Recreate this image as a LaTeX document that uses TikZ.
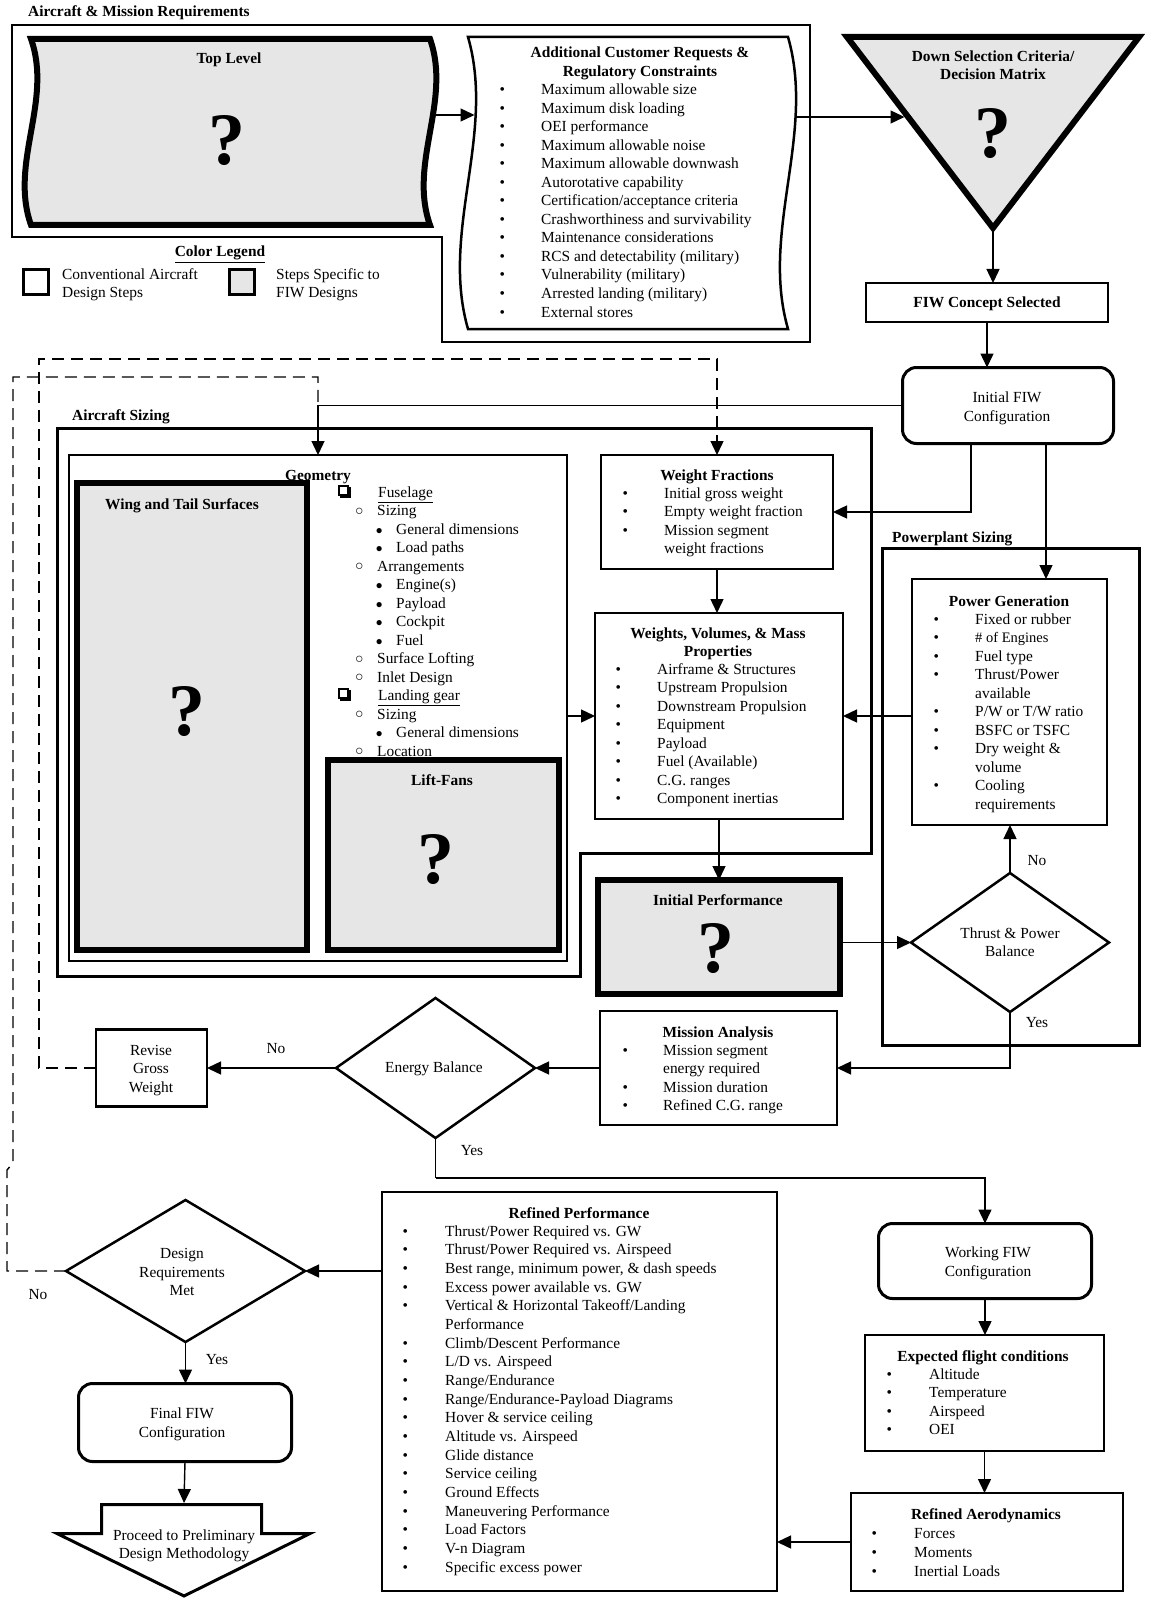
\documentclass[tikz,border=0pt]{standalone}
\usepackage{fontspec}
\setmainfont{Liberation Serif}
\usetikzlibrary{arrows.meta,shapes.geometric,calc}
\definecolor{fiwgray}{RGB}{230,230,230}
\newcommand\fsz{\fontsize{15.4}{18.5}\selectfont}
\newcommand\qmfont{\fontsize{74}{74}\selectfont\bfseries}
\newcommand\blist[6]{%
  \foreach \k/\bb/\tx in {#6}{%
    \node[lblw] (#1-\k) at ({#2-2.7},{#4+5+\k*#5})
      {\ifnum\bb=1 \makebox[\dimexpr #3pt-#2pt+2.7pt\relax][l]{\textbullet}\else\hspace*{\dimexpr #3pt-#2pt+2.7pt\relax}\fi\tx};}}
\newcommand\gsq[3]{\node[lblw] (#1) at (378,{#2+5}) {\underline{#3}};}
\newcommand\gci[3]{\node[lblw] (#1) at (355,{#2+5}) {\makebox[22pt][l]{\raisebox{0.5pt}{\fontsize{14}{14}\selectfont ○}}#3};}
\newcommand\gbu[3]{\node[lblw] (#1) at (375.5,{#2+5}) {\makebox[20.5pt][l]{\fontsize{12}{12}\selectfont ●}#3};}
\begin{document}
\begin{tikzpicture}[x=1pt,y=-1pt,
  lbl/.style={font=\fsz, inner sep=0, anchor=base},
  lblw/.style={font=\fsz, inner sep=0, anchor=base west},
  ttl/.style={font=\fsz\bfseries, inner sep=0, anchor=base},
  ttlw/.style={font=\fsz\bfseries, inner sep=0, anchor=base west},
  qm/.style={font=\qmfont, inner sep=0, anchor=base},
  box/.style={draw, line width=2.2pt, inner sep=0, outer sep=0},
  gbox/.style={draw, line width=6pt, fill=fiwgray, inner sep=0, outer sep=0},
  rbox/.style={draw, line width=3pt, rounded corners=14pt, inner sep=0, outer sep=0},
  dia/.style={diamond, draw, line width=2.5pt, inner sep=0, outer sep=0},
  conn/.style={line width=1.4pt, -{Triangle[length=14pt,width=13pt]}},
  pln/.style={line width=1.4pt},
  dln/.style={line width=1.4pt, dash pattern=on 12pt off 7pt}]
\useasboundingbox (0,0) rectangle (1151,1602);
\fill[white] (0,0) rectangle (1151,1602);

% ---------- Requirements ----------
\node[ttlw] (reqtitle) at (28,17) {Aircraft \& Mission Requirements};
\draw[line width=2.5pt] (12,25) -- (810,25) -- (810,342) -- (442,342) -- (442,237) -- (12,237) -- cycle;
\draw[line width=6pt, fill=fiwgray] (31,39) -- (430,39) .. controls (452,101) and (408,163) .. (430,225) -- (31,225) .. controls (9,163) and (53,101) .. (31,39) -- cycle;
\node[ttl] (tl-t) at (229,64) {Top Level};
\node[qm] (tl-q) at (227,165) {?};

\draw[line width=2.5pt] (468,37) -- (788,37) .. controls (816,134) and (760,232) .. (788,329) -- (468,329) .. controls (440,232) and (496,134) .. (468,37) -- cycle;
\node[ttl] (ad-t1) at (640,58) {Additional Customer Requests \&};
\node[ttl] (ad-t2) at (640,77) {Regulatory Constraints};
\blist{ad}{502}{541}{90}{18.5}{0/1/Maximum allowable size,1/1/Maximum disk loading,2/1/OEI performance,3/1/Maximum allowable noise,4/1/Maximum allowable downwash,5/1/Autorotative capability,6/1/{Certification/acceptance criteria},7/1/Crashworthiness and survivability,8/1/Maintenance considerations,9/1/RCS and detectability (military),10/1/Vulnerability (military),11/1/Arrested landing (military),12/1/External stores}

\coordinate (tlR) at (433,115);
\coordinate (adL) at (474.5,115);
\draw[conn] (tlR) -- (adL);

\draw[line width=6pt, fill=fiwgray] (847,37) -- (1139,37) -- (993,228) -- cycle;
\node[ttl] (ds-t1) at (993,62) {Down Selection Criteria/};
\node[ttl] (ds-t2) at (993,80) {Decision Matrix};
\node[qm] (ds-q) at (993,158) {?};
\coordinate (adR) at (795.6,117);
\coordinate (triL) at (904.5,117);
\draw[conn] (adR) -- (triL);

\node[ttl] (leg-t) at (220,257) {\underline{Color Legend}};
\node[box, line width=3pt, minimum width=25pt, minimum height=25pt] (lb1) at (36,282) {};
\node[box, line width=3pt, fill=fiwgray, minimum width=25pt, minimum height=25pt] (lb2) at (242,282) {};
\node[lblw] (lb1-a) at (62,280) {Conventional Aircraft};
\node[lblw] (lb1-b) at (62,298) {Design Steps};
\node[lblw] (lb2-a) at (276,280) {Steps Specific to};
\node[lblw] (lb2-b) at (276,298) {FIW Designs};

% ---------- FIW concept ----------
\node[box, minimum width=242pt, minimum height=39pt] (fiwc) at (987,302.5) {};
\node[ttl] (fiwc-t) at (987,308) {FIW Concept Selected};
\coordinate (triB) at (993,228);
\draw[conn] (triB) -- (triB |- fiwc.north);

\node[rbox, minimum width=211pt, minimum height=76pt] (ifw) at (1008,405.5) {};
\node[lbl] (ifw-a) at (1007,402) {Initial FIW};
\node[lbl] (ifw-b) at (1007,421) {Configuration};
\draw[conn] (fiwc.south) -- (fiwc.south |- ifw.north);

% ---------- Aircraft sizing ----------
\node[ttlw] (as-t) at (72,420) {Aircraft Sizing};
\draw[line width=3pt] (57,428) -- (871,428) -- (871,853) -- (580,853) -- (580,976) -- (57,976) -- cycle;
\node[box, line width=2pt, minimum width=498pt, minimum height=506pt] (geo) at (318,708) {};

\draw[line width=1.1pt] (339,486) rectangle (348,495);
\draw[line width=2pt] (340,497) -- (350,497) -- (350,487);
\draw[line width=1.1pt] (339,689) rectangle (348,698);
\draw[line width=2pt] (340,700) -- (350,700) -- (350,690);
\gsq{g0}{492}{Fuselage}
\gci{g1}{510.5}{Sizing}
\gbu{g2}{529}{General dimensions}
\gbu{g3}{547.5}{Load paths}
\gci{g4}{566}{Arrangements}
\gbu{g5}{584.5}{Engine(s)}
\gbu{g6}{603}{Payload}
\gbu{g7}{621.5}{Cockpit}
\gbu{g8}{640}{Fuel}
\gci{g9}{658.5}{Surface Lofting}
\gci{g10}{677}{Inlet Design}
\gsq{g11}{695.5}{Landing gear}
\gci{g12}{714}{Sizing}
\gbu{g13}{732.5}{General dimensions}
\gci{g14}{751}{Location}

\node[gbox, minimum width=230pt, minimum height=467pt] (wing) at (192,716.5) {};
\node[ttl] (geo-t) at (318,480) {Geometry};
\node[ttl] (wing-t) at (182,509) {Wing and Tail Surfaces};
\node[qm] (wing-q) at (187,735) {?};
\node[gbox, minimum width=231pt, minimum height=190pt] (lift) at (443.5,855) {};
\node[ttl] (lift-t) at (442,785) {Lift-Fans};
\node[qm] (lift-q) at (436,883) {?};

\node[box, minimum width=232pt, minimum height=114pt] (wf) at (717,512) {};
\node[ttl] (wf-t) at (717,480) {Weight Fractions};
\blist{wf}{625}{664}{493}{18.5}{0/1/Initial gross weight,1/1/Empty weight fraction,2/1/Mission segment,3/0/weight fractions}

\node[box, minimum width=248pt, minimum height=206pt] (wv) at (719,716) {};
\node[ttl] (wv-t1) at (718,638) {Weights, Volumes, \& Mass};
\node[ttl] (wv-t2) at (718,656) {Properties};
\blist{wv}{618}{657}{669}{18.5}{0/1/Airframe \& Structures,1/1/Upstream Propulsion,2/1/Downstream Propulsion,3/1/Equipment,4/1/Payload,5/1/Fuel (Available),6/1/C.G. ranges,7/1/Component inertias}

% ---------- Powerplant ----------
\node[ttlw] (ps-t) at (892,542) {Powerplant Sizing};
\node[draw, line width=3pt, inner sep=0, outer sep=0, minimum width=257pt, minimum height=497pt] (ps) at (1010.5,796.5) {};
\node[box, minimum width=195pt, minimum height=246pt] (pg) at (1009.5,702) {};
\node[ttl] (pg-t) at (1009,606) {Power Generation};
\blist{pg}{936}{975}{619}{18.5}{0/1/Fixed or rubber,1/1/{\fontsize{14.5}{18}\selectfont\# of Engines},2/1/Fuel type,3/1/{Thrust/Power},4/0/available,5/1/{P/W or T/W ratio},6/1/BSFC or TSFC,7/1/Dry weight \&,8/0/volume,9/1/Cooling,10/0/requirements}

\node[gbox, minimum width=242pt, minimum height=114pt] (ip) at (719,937) {};
\node[ttl] (ip-t) at (718,905) {Initial Performance};
\node[qm] (ip-q) at (716,972) {?};

\node[dia, minimum width=198pt, minimum height=139pt] (tpb) at (1010,942.5) {};
\node[lbl] (tpb-a) at (1010,938) {Thrust \& Power};
\node[lbl] (tpb-b) at (1010,956) {Balance};

\node[box, minimum width=237pt, minimum height=114pt] (ma) at (718.5,1068) {};
\node[ttl] (ma-t) at (718,1037) {Mission Analysis};
\blist{ma}{625}{663}{1050}{18.6}{0/1/Mission segment,1/0/energy required,2/1/Mission duration,3/1/Refined C.G. range}

\node[dia, minimum width=199pt, minimum height=140pt] (eb) at (435.5,1068) {};
\node[lbl] (eb-t) at (434,1072) {Energy Balance};

\node[box, minimum width=111pt, minimum height=77pt] (rgw) at (151.5,1068) {};
\node[lbl] (rgw-a) at (151,1055) {Revise};
\node[lbl] (rgw-b) at (151,1073) {Gross};
\node[lbl] (rgw-c) at (151,1092) {Weight};

% ---------- lower right ----------
\node[rbox, minimum width=213pt, minimum height=75pt] (wfc) at (985,1261) {};
\node[lbl] (wfc-a) at (988,1257) {Working FIW};
\node[lbl] (wfc-b) at (988,1276) {Configuration};

\node[box, minimum width=239pt, minimum height=116pt] (efc) at (984.5,1393) {};
\node[ttl] (efc-t) at (983,1361) {Expected flight conditions};
\blist{ef}{889}{929}{1374}{18.6}{0/1/Altitude,1/1/Temperature,2/1/Airspeed,3/1/OEI}

\node[box, minimum width=272pt, minimum height=98pt] (ra) at (987,1542) {};
\node[ttl] (ra-t) at (986,1519) {Refined Aerodynamics};
\blist{ra}{874}{914}{1533}{19}{0/1/Forces,1/1/Moments,2/1/Inertial Loads}

\node[box, minimum width=395pt, minimum height=399pt] (rp) at (579.5,1391.5) {};
\node[ttl] (rp-t) at (579,1218) {Refined Performance};
\blist{rp}{405}{445}{1231}{18.67}{0/1/{Thrust/Power Required vs. GW},1/1/{Thrust/Power Required vs. Airspeed},2/1/{Best range, minimum power, \& dash speeds},3/1/Excess power available vs. GW,4/1/{Vertical \& Horizontal Takeoff/Landing},5/0/Performance,6/1/{Climb/Descent Performance},7/1/{L/D vs. Airspeed},8/1/{Range/Endurance},9/1/{Range/Endurance-Payload Diagrams},10/1/Hover \& service ceiling,11/1/Altitude vs. Airspeed,12/1/Glide distance,13/1/Service ceiling,14/1/Ground Effects,15/1/Maneuvering Performance,16/1/Load Factors,17/1/V-n Diagram,18/1/Specific excess power}

% ---------- lower left ----------
\node[dia, minimum width=239pt, minimum height=142pt] (drm) at (185.5,1271) {};
\node[lbl] (drm-a) at (182,1258) {Design};
\node[lbl] (drm-b) at (182,1277) {Requirements};
\node[lbl] (drm-c) at (182,1295) {Met};

\node[rbox, minimum width=213pt, minimum height=78pt] (ffw) at (185,1422.5) {};
\node[lbl] (ffw-a) at (182,1418) {Final FIW};
\node[lbl] (ffw-b) at (182,1437) {Configuration};

\draw[line width=3pt] (101.5,1504.5) -- (261.5,1504.5) -- (261.5,1533.5) -- (310,1533.5) -- (184,1596) -- (57,1533.5) -- (101.5,1533.5) -- cycle;
\node[lbl] (pr-a) at (184,1540) {Proceed to Preliminary};
\node[lbl] (pr-b) at (184,1558) {Design Methodology};
\coordinate (prT) at (184,1503);

% ---------- connectors ----------
\coordinate (ifwL) at ($(ifw.south)+(-37,0)$);
\coordinate (ifwR) at ($(ifw.south)+(38,0)$);
\coordinate (dB) at (39,359);
\coordinate (dA1) at (7,1170);
\coordinate (dA2) at (13,1163);
\coordinate (dA3) at (318,377);
\coordinate (ebY) at ($(eb.south)+(0,40)$);

\draw[dln] (drm.west) -| (dA1) -- (dA2) |- (dA3) -- (geo.north |- ifw.west);
\draw[dln, -{Triangle[length=14pt,width=13pt]}] (rgw.west) -| (dB) -| (wf.north);
\draw[conn] (ifw.west) -| (geo.north);
\draw[conn] (ifwL) |- (wf.east);
\draw[conn] (ifwR) -- (ifwR |- pg.north);
\draw[conn] (wf.south) -- (wf.south |- wv.north);
\draw[conn] (geo.east |- wv.west) -- (wv.west);
\draw[conn] (pg.west |- wv.east) -- (wv.east);
\draw[conn] (wv.south) -- (wv.south |- ip.north);
\draw[conn] (ip.east |- tpb.west) -- (tpb.west);
\draw[conn] (tpb.north) -- (tpb.north |- pg.south);
\draw[conn] (tpb.south) |- (ma.east);
\draw[conn] (ma.west) -- (eb.east);
\draw[conn] (eb.west) -- (rgw.east);
\draw[pln] (eb.south) -- (ebY);
\draw[conn] (ebY) -| (wfc.north);
\draw[conn] (wfc.south) -- (wfc.south |- efc.north);
\draw[conn] (efc.south) -- (efc.south |- ra.north);
\draw[conn] (ra.west) -- (ra.west -| rp.east);
\draw[conn] (drm.east -| rp.west) -- (drm.east);
\draw[conn] (drm.south) -- (drm.south |- ffw.north);
\draw[conn] (ffw.south) -- (prT);

\node[lbl] (no1) at (276,1053) {No};
\node[lbl] (yes1) at (472,1155) {Yes};
\node[lbl] (no2) at (1037,865) {No};
\node[lbl] (yes2) at (1037,1027) {Yes};
\node[lbl] (no3) at (38,1299) {No};
\node[lbl] (yes3) at (217,1364) {Yes};
\end{tikzpicture}
\end{document}
